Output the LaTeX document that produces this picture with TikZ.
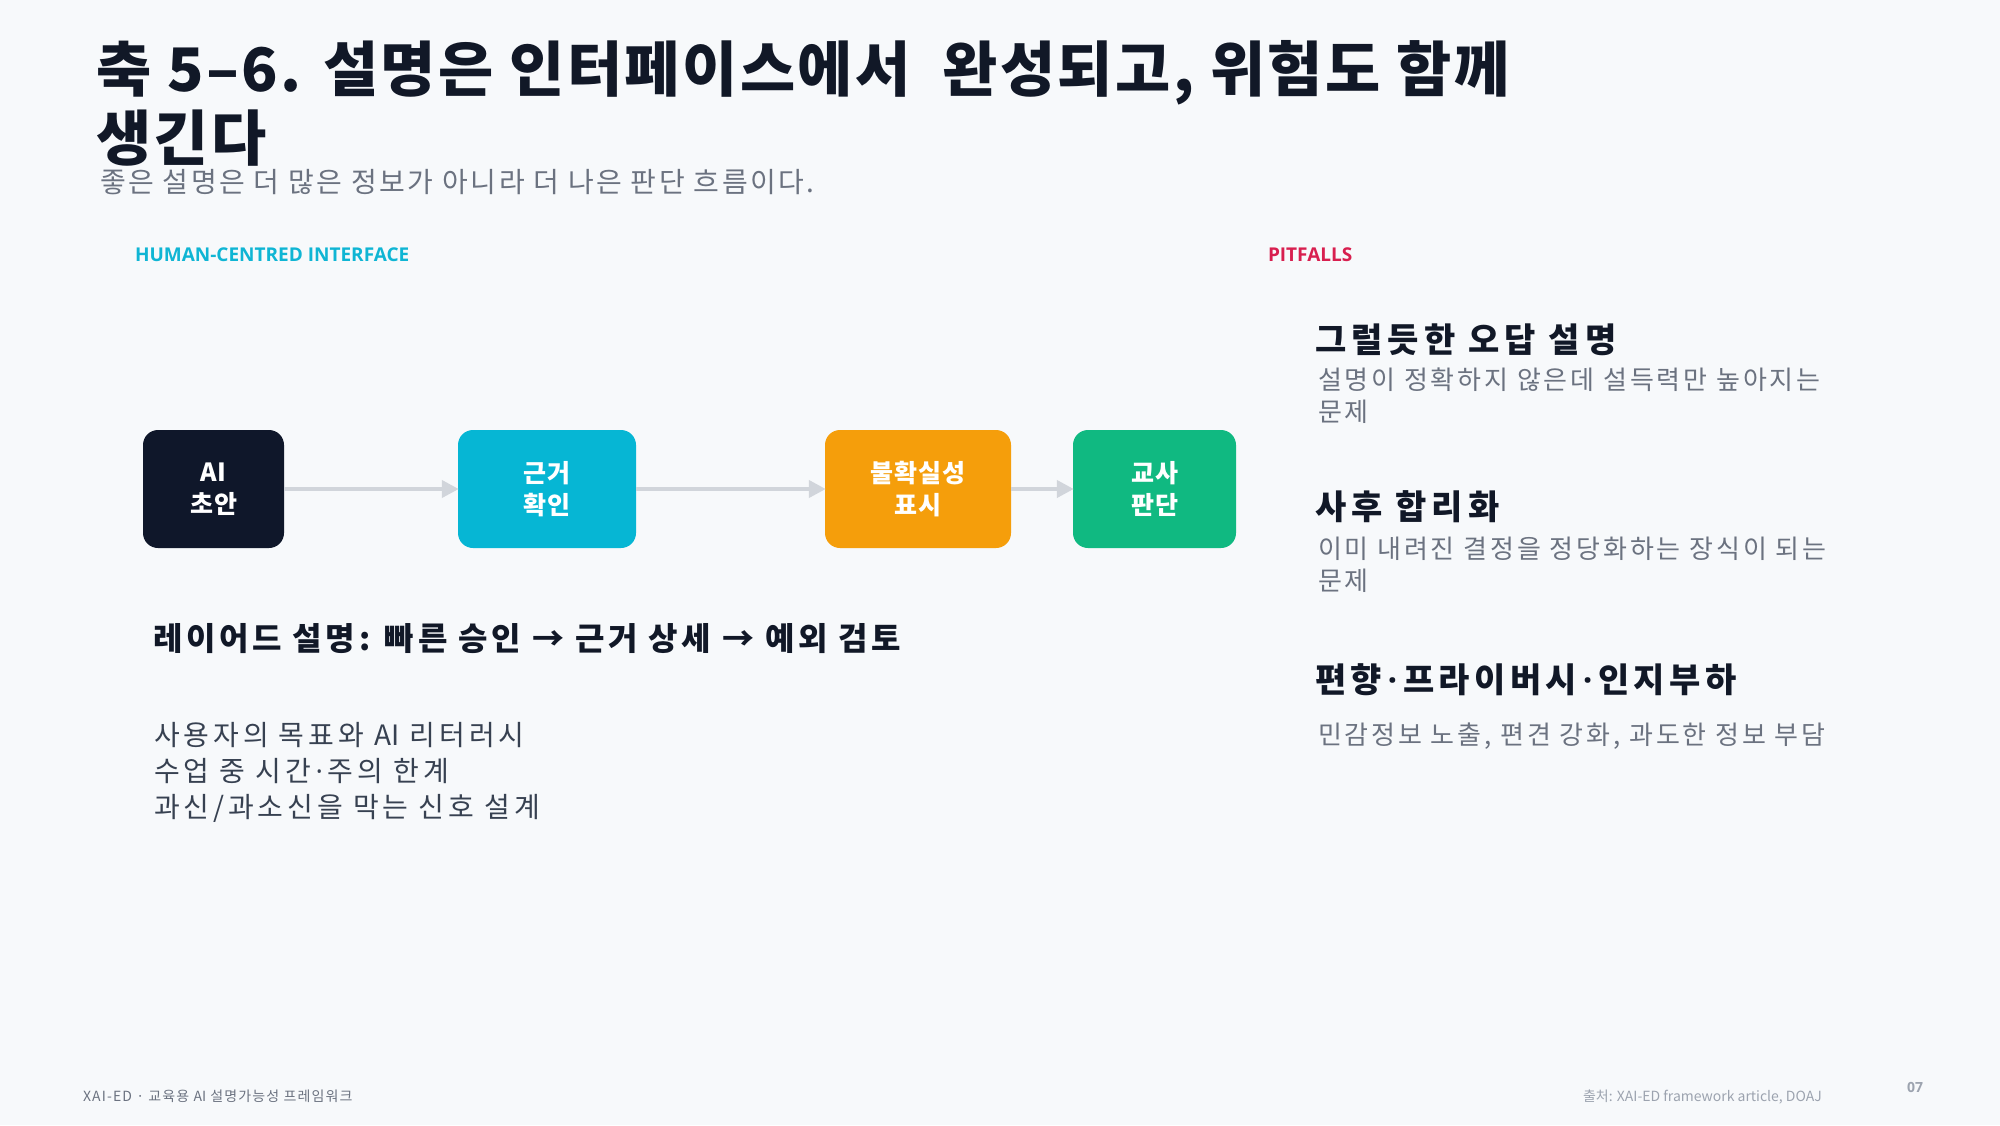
\documentclass[tikz,border=0pt]{standalone}
\usepackage{fontspec}
\setmainfont{Open Sans}
\newfontfamily\kr{Noto Sans CJK KR}
\usetikzlibrary{arrows.meta}
\definecolor{bg}{HTML}{F7F9FB}
\definecolor{ink}{HTML}{111827}
\definecolor{subgray}{HTML}{6B7280}
\definecolor{bodygray}{HTML}{374151}
\definecolor{footgray}{HTML}{9CA3AF}
\definecolor{cyanlbl}{HTML}{0FB5D4}
\definecolor{pitred}{HTML}{D81F4F}
\definecolor{navy}{HTML}{0F172A}
\definecolor{cyanbox}{HTML}{06B6D4}
\definecolor{amberbox}{HTML}{F59E0B}
\definecolor{greenbox}{HTML}{10B981}
\definecolor{arrowgray}{HTML}{D1D5DB}
\newcommand{\mdot}{{\rmfamily\,·\,}}
\newcommand{\tightAI}{{\addfontfeatures{LetterSpace=0}AI}}
\tikzset{
  txt/.style={anchor=base west, inner sep=0pt, outer sep=0pt},
  stepbox/.style={rounded corners=15pt, minimum height=118pt, inner sep=0pt, text=white,
    align=center, font=\kr\bfseries\fontsize{25}{32}\selectfont\addfontfeatures{LetterSpace=4}},
  flow/.style={draw=arrowgray, line width=4pt, -{Triangle[length=17pt,width=17pt]}, shorten >=-1pt},
  head/.style={txt, font=\kr\bfseries\fontsize{34}{40}\selectfont\addfontfeatures{LetterSpace=15}, text=ink},
  desc/.style={txt, font=\kr\fontsize{26}{33}\selectfont\addfontfeatures{LetterSpace=11}, text=subgray},
  body/.style={txt, font=\kr\fontsize{28}{36}\selectfont\addfontfeatures{LetterSpace=14}, text=bodygray},
}
\begin{document}
\begin{tikzpicture}[x=1pt,y=-1pt]
\fill[bg] (0,0) rectangle (2000,1125);
\useasboundingbox (0,0) rectangle (2000,1125);

% title
\node[txt, font=\kr\bfseries\fontsize{60}{72}\selectfont\addfontfeatures{LetterSpace=4}, text=ink] (t1) at (96,91) {축 5–6. 설명은 인터페이스에서\ \ 완성되고, 위험도 함께};
\node[txt, font=\kr\bfseries\fontsize{60}{72}\selectfont\addfontfeatures{LetterSpace=4}, text=ink] (t2) at (96,160) {생긴다};
\node[txt, font=\kr\fontsize{28}{34}\selectfont\addfontfeatures{LetterSpace=9}, text=subgray] (sub) at (100,192) {좋은 설명은 더 많은 정보가 아니라 더 나은 판단 흐름이다.};

% section labels
\node[txt, font=\bfseries\fontsize{19}{23}\selectfont, text=cyanlbl] (lblL) at (135,261) {HUMAN-CENTRED INTERFACE};
\node[txt, font=\bfseries\fontsize{19}{23}\selectfont, text=pitred] (lblR) at (1268,261) {PITFALLS};

% flow boxes
\node[stepbox, fill=navy, minimum width=141pt] (b1) at (213.5,489) {\tightAI\\초안};
\node[stepbox, fill=cyanbox, minimum width=178pt] (b2) at (547,489) {근거\\확인};
\node[stepbox, fill=amberbox, minimum width=186pt] (b3) at (918,489) {불확실성\\표시};
\node[stepbox, fill=greenbox, minimum width=163pt] (b4) at (1154.5,489) {교사\\판단};
\draw[flow] (b1) -- (b2);
\draw[flow] (b2) -- (b3);
\draw[flow] (b3) -- (b4);

% layered explanation
\node[txt, font=\kr\bfseries\fontsize{32}{38}\selectfont\addfontfeatures{LetterSpace=11.5}, text=ink] (lay) at (153,650) {레이어드 설명: 빠른 승인 → 근거 상세 → 예외 검토};
\node[body] (p1) at (154,745) {사용자의 목표와 \tightAI\ 리터러시};
\node[body] (p2) at (154,781) {수업 중 시간\mdot 주의 한계};
\node[body] (p3) at (154,817) {과신/과소신을 막는 신호 설계};

% pitfalls
\node[head] (h1) at (1315,352) {그럴듯한 오답 설명};
\node[desc] (d1a) at (1318,389) {설명이 정확하지 않은데 설득력만 높아지는};
\node[desc] (d1b) at (1318,421) {문제};
\node[head] (h2) at (1315,519) {사후 합리화};
\node[desc] (d2a) at (1318,558) {이미 내려진 결정을 정당화하는 장식이 되는};
\node[desc] (d2b) at (1318,590) {문제};
\node[head, font=\kr\bfseries\fontsize{34}{40}\selectfont\addfontfeatures{LetterSpace=13}] (h3) at (1315,692) {편향\mdot 프라이버시\mdot 인지부하};
\node[desc] (d3a) at (1318,744) {민감정보 노출, 편견 강화, 과도한 정보 부담};

% footer
\node[txt, font=\kr\fontsize{14}{17}\selectfont\addfontfeatures{LetterSpace=8}, text=subgray] (f1) at (83,1101) {XAI-ED · 교육용 \tightAI\ 설명가능성 프레임워크};
\node[txt, font=\kr\fontsize{14}{17}\selectfont, text=footgray] (f2) at (1583,1101) {출처: XAI-ED framework article, DOAJ};
\node[txt, font=\bfseries\fontsize{14}{17}\selectfont, text=footgray] (f3) at (1907,1092) {07};
\end{tikzpicture}
\end{document}
